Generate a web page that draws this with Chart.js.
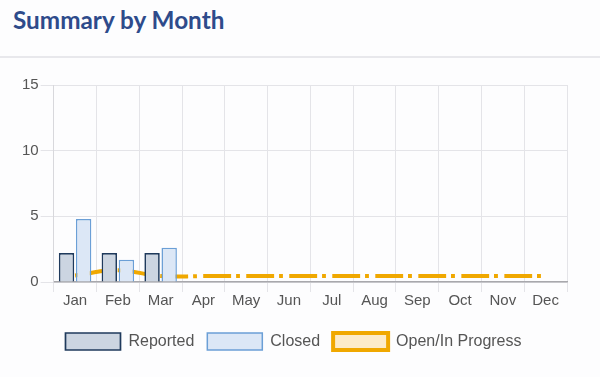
<!DOCTYPE html>
<html>
<head>
<meta charset="utf-8">
<script src="https://cdn.jsdelivr.net/npm/chart.js@4"></script>
<style>
    html, body { margin: 0; padding: 0; background: #fdfdfe; }
    body { width: 600px; height: 377px; position: relative; overflow: hidden; }
    .header {
        position: absolute; left: 0; top: 0; width: 600px; height: 56px;
        border-bottom: 2px solid #e8e8ec;
    }
    .header h1 {
        margin: 0; position: absolute; left: 13px; top: 5px;
        font-family: Lato, sans-serif; font-weight: 700; font-size: 24.3px;
        color: #2e4b8b;
    }
    .wrap { position: absolute; left: 0; top: 58px; width: 600px; height: 319px; }
</style>
</head>
<body>
<div class="header"><h1>Summary by Month</h1></div>
<div class="wrap"><canvas id="monthChart"></canvas></div>
<script>
const months = ['Jan', 'Feb', 'Mar', 'Apr', 'May', 'Jun', 'Jul', 'Aug', 'Sep', 'Oct', 'Nov', 'Dec'];
const reported = [2.2, 2.2, 2.2, null, null, null, null, null, null, null, null, null];
const closed = [4.8, 1.7, 2.6, null, null, null, null, null, null, null, null, null];
const openInProgress = [0.5, 0.9, 0.45, 0.45, 0.45, 0.45, 0.45, 0.45, 0.45, 0.45, 0.45, 0.45];
const yTicks = [0, 5, 10, 15];

window.onload = () => {
    const ctx = document.getElementById('monthChart').getContext('2d');
    new Chart(ctx, {
        type: 'bar',
        data: {
            labels: months,
            datasets: [{
                label: 'Reported',
                data: reported,
                backgroundColor: '#ccd5e1',
                borderColor: '#1f3a5c',
                borderWidth: 1.7
            }, {
                label: 'Closed',
                data: closed,
                backgroundColor: '#dce7f6',
                borderColor: '#6b9fd6',
                borderWidth: 1.5
            }, {
                type: 'line',
                label: 'Open/In Progress',
                data: openInProgress,
                backgroundColor: '#fcebc9',
                borderColor: '#f0a800',
                borderWidth: 4,
                borderDash: [28, 5, 4, 6],
                borderCapStyle: 'butt',
                pointRadius: 0,
                tension: 0.4,
                fill: false
            }]
        },
        options: {
            responsive: true,
            maintainAspectRatio: false,
            animation: false,
            layout: { padding: { top: 27, left: 20, right: 33, bottom: 17 } },
            scales: {
                x: {
                    grid: { color: '#e4e4e8', tickLength: 10, offset: true },
                    border: { color: '#a8a8ac', width: 1.5 },
                    ticks: { color: '#555', font: { family: 'Liberation Sans', size: 15 }, padding: 0 },
                    afterFit: axis => { axis.height += 10; }
                },
                y: {
                    min: 0,
                    max: 15,
                    afterBuildTicks: axis => { axis.ticks = yTicks.map(v => ({ value: v })); },
                    grid: { color: '#e4e4e8', tickLength: 13 },
                    border: { color: '#d8d8dc' },
                    ticks: { color: '#555', font: { family: 'Liberation Sans', size: 15 }, padding: 2 }
                }
            },
            plugins: {
                tooltip: { enabled: false },
                legend: {
                    position: 'bottom',
                    labels: {
                        boxWidth: 55,
                        boxHeight: 17,
                        padding: 13,
                        color: '#555',
                        font: { family: 'Liberation Sans', size: 16 },
                        generateLabels: chart => {
                            const items = Chart.defaults.plugins.legend.labels.generateLabels(chart);
                            items.forEach(it => { it.lineDash = []; });
                            return items;
                        }
                    }
                }
            }
        }
    });
}
</script>
</body>
</html>
